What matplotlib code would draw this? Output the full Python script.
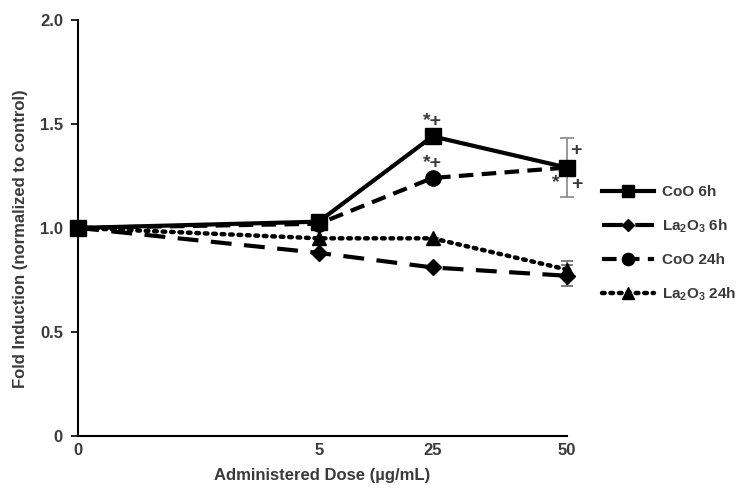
import matplotlib
matplotlib.use('Agg')
from matplotlib import pyplot as plt

plt.rcParams['font.family'] = ['Liberation Sans', 'DejaVu Sans']
plt.rcParams['font.weight'] = 'bold'
plt.rcParams['mathtext.fontset'] = 'custom'
plt.rcParams['mathtext.rm'] = 'Liberation Sans:bold'
plt.rcParams['mathtext.it'] = 'Liberation Sans:bold'
plt.rcParams['mathtext.bf'] = 'Liberation Sans:bold'

doses = ['0', '5', '25', '50']
# uneven category spacing as in the original figure
dose_pos = [0, 0.492, 0.725, 1.0]

coo_6h = [1.0, 1.03, 1.44, 1.29]
la_6h = [1.0, 0.88, 0.81, 0.77]
coo_24h = [1.0, 1.02, 1.24, 1.29]
la_24h = [1.0, 0.95, 0.95, 0.80]

coo_6h_err = [0, 0, 0, 0.14]
la_6h_err = [0, 0, 0, 0.05]
la_24h_err = [0, 0, 0, 0.04]

text_col = '#3a3a3a'
fs = 12

fig = plt.figure(figsize=(7.45, 4.96), dpi=100)
ax = fig.add_axes([0.105, 0.121, 0.656, 0.839])

# error bars (grey, drawn first)
ax.errorbar(dose_pos, coo_6h, yerr=coo_6h_err, fmt='none', ecolor='#888888', elinewidth=1.2, capsize=5, capthick=1.2, clip_on=False)
ax.errorbar(dose_pos, la_6h, yerr=la_6h_err, fmt='none', ecolor='#666666', elinewidth=1.2, capsize=4, capthick=1.2, clip_on=False)
ax.errorbar(dose_pos, la_24h, yerr=la_24h_err, fmt='none', ecolor='#666666', elinewidth=1.2, capsize=4, capthick=1.2, clip_on=False)

ax.plot(dose_pos, la_24h, color='black', linestyle=(0, (0.6, 1.3)), linewidth=3.2, marker='^', markersize=10, label='La$_2$O$_3$ 24h', dash_capstyle='round', clip_on=False)
ax.plot(dose_pos, la_6h, color='black', linestyle=(0, (5, 3)), linewidth=3.0, marker='D', markersize=8, label='La$_2$O$_3$ 6h', clip_on=False)
ax.plot(dose_pos, coo_24h, color='black', linestyle=(0, (3.5, 2)), linewidth=3.0, marker='o', markersize=11, label='CoO 24h', clip_on=False)
ax.plot(dose_pos, coo_6h, color='black', linestyle='-', linewidth=3.0, marker='s', markersize=11, label='CoO 6h', clip_on=False)

# significance marks
ax.text(dose_pos[2], 1.51, '*+', ha='center', va='center', fontsize=14, color=text_col)
ax.text(dose_pos[2], 1.31, '*+', ha='center', va='center', fontsize=14, color=text_col)
ax.text(dose_pos[3] + 0.018, 1.37, '+', ha='center', va='center', fontsize=14, color=text_col)
ax.text(dose_pos[3] - 0.022, 1.22, '*', ha='center', va='center', fontsize=14, color=text_col)
ax.text(dose_pos[3] + 0.02, 1.21, '+', ha='center', va='center', fontsize=14, color=text_col)

ax.set_xlim(0, 1.0)
ax.set_ylim(0, 2.0)
ax.set_xticks(dose_pos)
ax.set_xticklabels(doses)
ax.set_yticks([0, 0.5, 1.0, 1.5, 2.0])
ax.set_yticklabels(['0', '0.5', '1.0', '1.5', '2.0'])
ax.tick_params(axis='x', length=0, pad=5, labelsize=fs, labelcolor=text_col)
ax.tick_params(axis='y', length=5, width=1.2, direction='out', pad=6, labelsize=fs, labelcolor=text_col)

for side in ['top', 'right']:
    ax.spines[side].set_visible(False)
for side in ['left', 'bottom']:
    ax.spines[side].set_linewidth(1.5)

ax.set_xlabel('Administered Dose (\u00b5g/mL)', fontsize=fs, fontweight='bold', color=text_col, labelpad=7)
ax.set_ylabel('Fold Induction (normalized to control)', fontsize=fs, fontweight='bold', color=text_col)
ax.yaxis.set_label_coords(-0.103, 0.475)

handles, labels = ax.get_legend_handles_labels()
order = [3, 1, 2, 0]
fig.legend([handles[i] for i in order], [labels[i] for i in order],
           loc='upper left', bbox_to_anchor=(0.79, 0.655), frameon=False,
           handlelength=3.4, handletextpad=0.5, labelspacing=1.2, markerscale=0.8,
           prop={'size': 11, 'weight': 'bold'}, labelcolor=text_col)

plt.savefig('out.png', dpi=100)
